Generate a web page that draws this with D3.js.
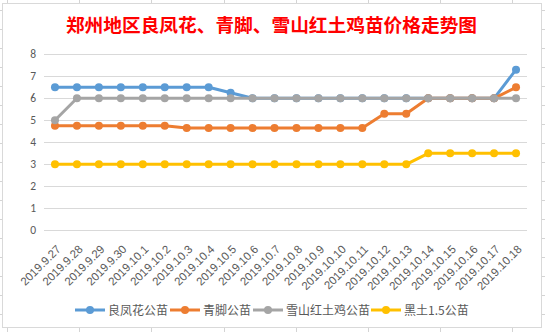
<!DOCTYPE html>
<html><head><meta charset="utf-8">
<script src="https://cdn.jsdelivr.net/npm/d3@7"></script>
<style>body{margin:0;background:#fff}svg{display:block}</style>
</head><body>
<svg id="c" width="545" height="332"></svg>
<script>
const title = "郑州地区良凤花、青脚、雪山红土鸡苗价格走势图";
const categories = ["2019.9.27","2019.9.28","2019.9.29","2019.9.30","2019.10.1","2019.10.2","2019.10.3","2019.10.4","2019.10.5","2019.10.6","2019.10.7","2019.10.8","2019.10.9","2019.10.10","2019.10.11","2019.10.12","2019.10.13","2019.10.14","2019.10.15","2019.10.16","2019.10.17","2019.10.18"];
const seriesNames = ["良凤花公苗","青脚公苗","雪山红土鸡公苗","黑土1.5公苗"];
const liangfenghua = [6.5,6.5,6.5,6.5,6.5,6.5,6.5,6.5,6.25,6,6,6,6,6,6,6,6,6,6,6,6,7.3];
const qingjiao = [4.75,4.75,4.75,4.75,4.75,4.75,4.65,4.65,4.65,4.65,4.65,4.65,4.65,4.65,4.65,5.3,5.3,6,6,6,6,6.5];
const xueshan = [5,6,6,6,6,6,6,6,6,6,6,6,6,6,6,6,6,6,6,6,6,6];
const heitu = [3,3,3,3,3,3,3,3,3,3,3,3,3,3,3,3,3,3.5,3.5,3.5,3.5,3.5];
const yTicks = [0,1,2,3,4,5,6,7,8];
const colors = ["#5B9BD5","#ED7D31","#A5A5A5","#FFC000"];
const seriesData = [liangfenghua, qingjiao, xueshan, heitu];

const svg = d3.select("#c");
// spreadsheet grid background
const bg = svg.append("g");
d3.range(10, 332, 19).forEach(y => bg.append("line").attr("x1",0).attr("x2",545).attr("y1",y+0.5).attr("y2",y+0.5).attr("stroke","#d4d4d4"));
[7,79,151,224,296,368,440,512].forEach(x => bg.append("line").attr("x1",x+0.5).attr("x2",x+0.5).attr("y1",0).attr("y2",332).attr("stroke","#d4d4d4"));
// chart area
svg.append("rect").attr("x",2.5).attr("y",3.5).attr("width",539).attr("height",324).attr("fill","#fff").attr("stroke","#d9d9d9");

svg.append("text").attr("x",271.5).attr("y",31.5).attr("text-anchor","middle")
  .attr("font-family","'Noto Sans CJK SC', sans-serif").attr("font-weight","bold")
  .attr("font-size",18.7).attr("fill","#FF0000").text(title);

const x = d3.scalePoint().domain(categories).range([44,527]).padding(0.5);
const y = d3.scaleLinear().domain([0,8]).range([230.3,54.3]);

// gridlines
svg.append("g").selectAll("line").data(yTicks).join("line")
  .attr("x1",44).attr("x2",527).attr("y1",d=>Math.round(y(d))+0.5).attr("y2",d=>Math.round(y(d))+0.5)
  .attr("stroke","#d9d9d9").attr("stroke-width",1);

// y axis
const ya = svg.append("g").attr("transform","translate(44,0)")
  .call(d3.axisLeft(y).tickValues(yTicks).tickSize(0).tickPadding(8).tickFormat(d3.format("d")));
ya.select(".domain").remove();
ya.selectAll("text").attr("font-family","Calibri, Carlito, 'Liberation Sans', sans-serif").attr("font-size",11.5).attr("fill","#595959");

// x axis labels
const xa = svg.append("g").attr("transform","translate(0,"+Math.round(y(0))+")")
  .call(d3.axisBottom(x).tickSize(0).tickPadding(0));
xa.select(".domain").remove();
xa.selectAll("text")
  .attr("font-family","'Liberation Sans', sans-serif").attr("font-size",11.5).attr("fill","#595959")
  .attr("text-anchor","end").attr("y",0).attr("dy",0)
  .attr("transform","translate(6,20) rotate(-45)");

const line = d3.line().x((d,i)=>x(categories[i])).y(d=>y(d));
seriesData.forEach((s,k)=>{
  const g = svg.append("g");
  g.append("path").datum(s).attr("d",line).attr("fill","none").attr("stroke",colors[k]).attr("stroke-width",3).attr("stroke-linejoin","round").attr("stroke-linecap","round");
  g.selectAll("circle").data(s).join("circle").attr("cx",(d,i)=>x(categories[i])).attr("cy",d=>y(d)).attr("r",4).attr("fill",colors[k]);
});

// legend
const legX = [75,170,253,371];
const leg = svg.append("g");
seriesNames.forEach((n,k)=>{
  const lx = legX[k], ly = 310;
  leg.append("line").attr("x1",lx).attr("x2",lx+30).attr("y1",ly).attr("y2",ly).attr("stroke",colors[k]).attr("stroke-width",3);
  leg.append("circle").attr("cx",lx+15).attr("cy",ly).attr("r",4).attr("fill",colors[k]);
  leg.append("text").attr("x",lx+33).attr("y",ly+4.5).attr("font-family","'Noto Sans CJK SC', sans-serif").attr("font-size",12).attr("fill","#595959").text(n);
});
</script>
</body></html>
